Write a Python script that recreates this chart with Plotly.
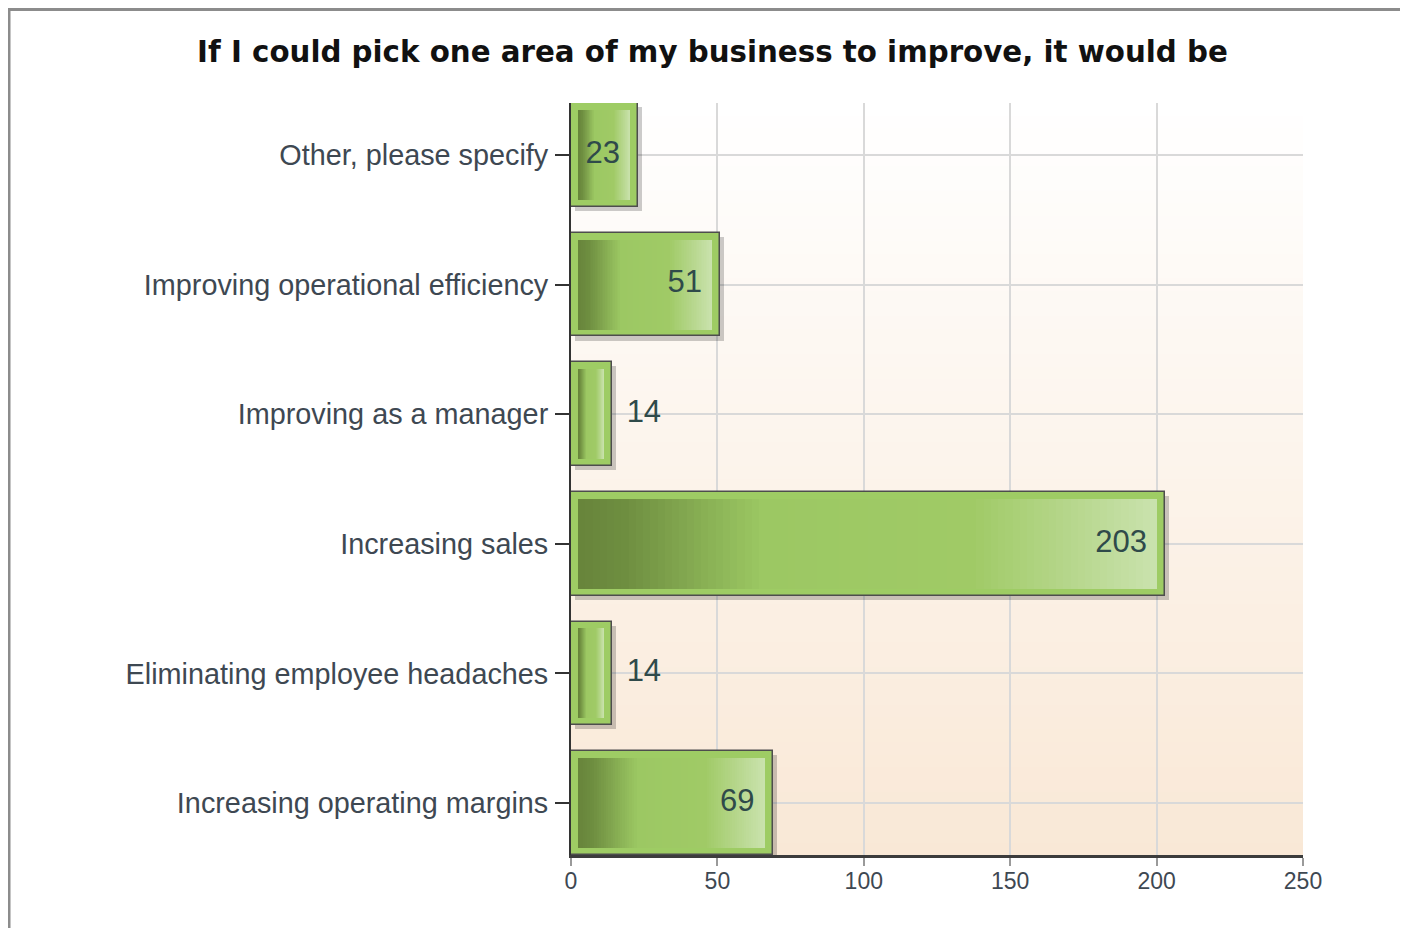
import plotly.graph_objects as go

# ---- data ----
categories = [
    "Increasing operating margins",
    "Eliminating employee headaches",
    "Increasing sales",
    "Improving as a manager",
    "Improving operational efficiency",
    "Other, please specify",
]
values = [69, 14, 203, 14, 51, 23]
x_ticks = [0, 50, 100, 150, 200, 250]
title_text = "If I could pick one area of my business to improve, it would be"

# ---- style helpers ----
def hex_to_rgb(h):
    h = h.lstrip("#")
    return tuple(int(h[i:i + 2], 16) for i in (0, 2, 4))

def interp(stops, t):
    for (t0, c0), (t1, c1) in zip(stops[:-1], stops[1:]):
        if t0 <= t <= t1:
            a = 0 if t1 == t0 else (t - t0) / (t1 - t0)
            r0, r1 = hex_to_rgb(c0), hex_to_rgb(c1)
            return "rgb(%d,%d,%d)" % tuple(round(r0[i] + (r1[i] - r0[i]) * a) for i in range(3))
    return "rgb(%d,%d,%d)" % hex_to_rgb(stops[-1][1])

bar_stops = [(0.0, "#67843b"), (0.08, "#6e8e40"), (0.32, "#9cc863"),
             (0.68, "#a0ca66"), (1.0, "#cae2ae")]
bg_stops = [(0.0, "#f9e8d6"), (1.0, "#ffffff")]

FONT = "Liberation Sans, Arial, sans-serif"
TITLE_FONT = "DejaVu Sans, Liberation Sans, sans-serif"
LABEL_COLOR = "#3e4852"

outer_w = 0.80
inner_w = 0.694
inset_l, inset_r = 2.4, 2.7

fig = go.Figure()

# shadow
fig.add_trace(go.Bar(
    y=categories, x=values, base=1.4, orientation="h", width=outer_w,
    offset=-outer_w / 2 - 0.032, marker=dict(color="rgba(0,0,0,0.2)", line=dict(width=0)),
    hoverinfo="skip", showlegend=False))

# main bar (outer rim)
fig.add_trace(go.Bar(
    y=categories, x=values, orientation="h", width=outer_w,
    marker=dict(color="#9ecc64", line=dict(color="#4d4d4d", width=1.5)),
    hovertemplate="%{y}: %{x}<extra></extra>", showlegend=False))

# inner gradient (stepped overlay)
N = 80
for k in range(N):
    f = 1 - k / N
    col = interp(bar_stops, f - 0.5 / N)
    fig.add_trace(go.Bar(
        y=categories, x=[(v - inset_l - inset_r) * f for v in values], base=inset_l,
        orientation="h", width=inner_w, marker=dict(color=col, line=dict(width=0)),
        hoverinfo="skip", showlegend=False))

# value labels
inside = [v >= 20 for v in values]
fig.add_trace(go.Scatter(
    y=categories,
    x=[v - 6.3 if ins else v + 5 for v, ins in zip(values, inside)],
    text=[str(v) for v in values],
    textposition=["middle left" if ins else "middle right" for ins in inside],
    mode="text", textfont=dict(family=FONT, size=31, color="#2f4a4a"),
    hoverinfo="skip", showlegend=False, cliponaxis=False))

# background gradient strips
shapes = []
n_strips = 60
for i in range(n_strips):
    shapes.append(dict(
        type="rect", xref="x domain", yref="y domain", x0=0, x1=1,
        y0=i / n_strips, y1=(i + 1) / n_strips + 0.002,
        fillcolor=interp(bg_stops, (i + 0.5) / n_strips), line=dict(width=0), layer="below"))

# page offset (body margin of the html page)
OFF = 8
W, H = 1408 - OFF, 928 - OFF
L, R, T, B = 571 - OFF, 1303 - OFF, 103 - OFF, 855 - OFF
pw, ph = R - L, B - T
shapes.append(dict(
    type="rect", xref="paper", yref="paper",
    x0=(9 - OFF - L) / pw, x1=1.3, y0=-0.3, y1=(B - 1.5) / ph,
    line=dict(color="#8c8c8c", width=3), fillcolor="rgba(0,0,0,0)", layer="above"))

fig.update_layout(
    width=W, height=H,
    margin=dict(l=L, r=W - R, t=T, b=H - B),
    paper_bgcolor="white", plot_bgcolor="white",
    barmode="overlay", bargap=0,
    shapes=shapes,
    title=dict(text="<b>" + title_text + "</b>", x=(712.5 - OFF) / W, xref="container", xanchor="center",
               y=1 - (52 - OFF) / H, yref="container", yanchor="middle",
               font=dict(family=TITLE_FONT, size=29.3, color="#111111")),
    xaxis=dict(range=[0, 250], tickvals=x_ticks, showgrid=True, gridcolor="#d9d9d9", gridwidth=1.5,
               zeroline=False, showline=True, linecolor="#3c3c3c", linewidth=2.5,
               ticks="outside", ticklen=8, tickwidth=1.5, tickcolor="#9a9a9a",
               ticklabelstandoff=-4,
               tickfont=dict(family=FONT, size=23, color=LABEL_COLOR)),
    yaxis=dict(type="category", categoryorder="array", categoryarray=categories,
               range=[-0.4, 5.4], showgrid=True, gridcolor="#d9d9d9", gridwidth=1.5,
               showline=True, linecolor="#333333", linewidth=2,
               ticks="outside", ticklen=14, tickwidth=2, tickcolor="#333333",
               ticklabelstandoff=1,
               tickfont=dict(family=FONT, size=28.8, color=LABEL_COLOR)),
    font=dict(family=FONT),
)

fig.write_html("out.html")
